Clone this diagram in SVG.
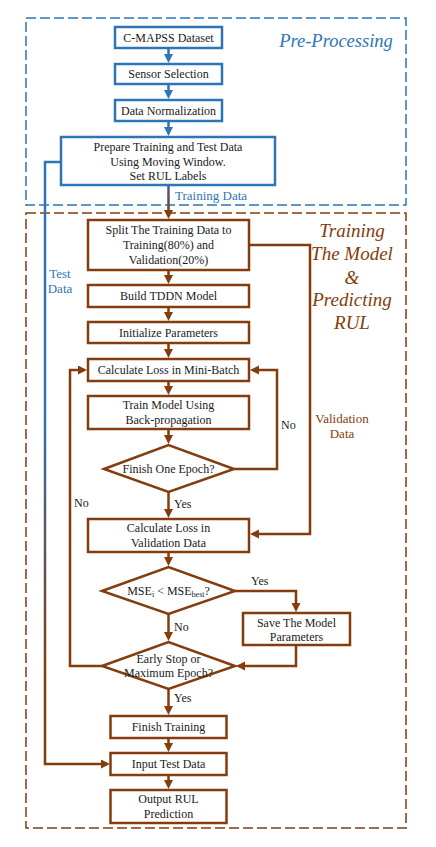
<svg xmlns="http://www.w3.org/2000/svg" width="436" height="847" viewBox="0 0 436 847">
<style>
.bg{fill:#ffffff}
.bbox{fill:#ffffff;stroke:#2e75b6;stroke-width:2.5}
.rbox{fill:#ffffff;stroke:#843c0c;stroke-width:2.5}
.frameB{fill:none;stroke:#2e75b6;stroke-width:1.5;stroke-dasharray:10 4}
.frameR{fill:none;stroke:#843c0c;stroke-width:1.5;stroke-dasharray:10 4}
.t{font-family:"Liberation Serif","Times New Roman",serif;font-size:12px;fill:#1a1a1a;text-anchor:middle}
.lb{font-family:"Liberation Serif","Times New Roman",serif;font-size:13px;fill:#2e75b6;text-anchor:middle}
.lr{font-family:"Liberation Serif","Times New Roman",serif;font-size:13px;fill:#843c0c;text-anchor:middle}
.yn{font-family:"Liberation Serif","Times New Roman",serif;font-size:12px;fill:#1a1a1a}
.titleB{font-family:"Liberation Serif","Times New Roman",serif;font-style:italic;font-size:18.5px;fill:#2e75b6;text-anchor:middle}
.titleR{font-family:"Liberation Serif","Times New Roman",serif;font-style:italic;font-size:19px;fill:#843c0c;text-anchor:middle}
.cb{fill:none;stroke:#2e75b6;stroke-width:2.5}
.cr{fill:none;stroke:#843c0c;stroke-width:2.5}
</style>
<defs>
<marker id="ab" markerUnits="userSpaceOnUse" markerWidth="10" markerHeight="10" refX="6" refY="4.5" orient="auto">
<path d="M0,0 L9,4.5 L0,9 z" fill="#2e75b6"/>
</marker>
<marker id="ar" markerUnits="userSpaceOnUse" markerWidth="10" markerHeight="10" refX="6" refY="4.5" orient="auto">
<path d="M0,0 L9,4.5 L0,9 z" fill="#843c0c"/>
</marker>
<linearGradient id="gTest" gradientUnits="userSpaceOnUse" x1="0" y1="162" x2="0" y2="764">
<stop offset="0" stop-color="#2e75b6"/>
<stop offset="0.4" stop-color="#2e75b6"/>
<stop offset="0.85" stop-color="#843c0c"/>
<stop offset="1" stop-color="#843c0c"/>
</linearGradient>
<linearGradient id="gTrain" gradientUnits="userSpaceOnUse" x1="0" y1="185" x2="0" y2="217">
<stop offset="0" stop-color="#3b5f95"/>
<stop offset="1" stop-color="#843c0c"/>
</linearGradient>
</defs>
<rect class="bg" x="0" y="0" width="436" height="847"/>

<g id="frames">
<rect class="frameB" x="26" y="18" width="380" height="187"/>
<rect class="frameR" x="26" y="213" width="380" height="615"/>
<text class="titleB" x="336" y="47">Pre-Processing</text>
<text class="titleR" x="352" y="237">Training</text>
<text class="titleR" x="352" y="260">The Model</text>
<text class="titleR" x="352" y="284">&amp;</text>
<text class="titleR" x="352" y="306">Predicting</text>
<text class="titleR" x="352" y="329">RUL</text>
</g>

<g id="connectors">
<line class="cb" x1="168.5" y1="48" x2="168.5" y2="60" marker-end="url(#ab)"/>
<line class="cb" x1="168.5" y1="84" x2="168.5" y2="96" marker-end="url(#ab)"/>
<line class="cb" x1="168.5" y1="121" x2="168.5" y2="133" marker-end="url(#ab)"/>
<line x1="168.5" y1="185" x2="168.5" y2="216" stroke="url(#gTrain)" stroke-width="2.5" marker-end="url(#ar)"/>
<polyline points="61,162 45,162 45,764 107,764" fill="none" stroke="url(#gTest)" stroke-width="2.5" marker-end="url(#ar)"/>
<line class="cr" x1="168.5" y1="270" x2="168.5" y2="281" marker-end="url(#ar)"/>
<line class="cr" x1="168.5" y1="307" x2="168.5" y2="318" marker-end="url(#ar)"/>
<line class="cr" x1="168.5" y1="343" x2="168.5" y2="355" marker-end="url(#ar)"/>
<line class="cr" x1="168.5" y1="381" x2="168.5" y2="392" marker-end="url(#ar)"/>
<line class="cr" x1="168.5" y1="429" x2="168.5" y2="441" marker-end="url(#ar)"/>
<line class="cr" x1="168.5" y1="492" x2="168.5" y2="515" marker-end="url(#ar)"/>
<line class="cr" x1="168.5" y1="552" x2="168.5" y2="563" marker-end="url(#ar)"/>
<line class="cr" x1="168.5" y1="614" x2="168.5" y2="638" marker-end="url(#ar)"/>
<line class="cr" x1="168.5" y1="689" x2="168.5" y2="712" marker-end="url(#ar)"/>
<line class="cr" x1="168.5" y1="738" x2="168.5" y2="749" marker-end="url(#ar)"/>
<line class="cr" x1="168.5" y1="775" x2="168.5" y2="786" marker-end="url(#ar)"/>
<polyline class="cr" points="234,469 277,469 277,370 253,370" marker-end="url(#ar)"/>
<polyline class="cr" points="102,666 70,666 70,370 84,370" marker-end="url(#ar)"/>
<polyline class="cr" points="249,245 310,245 310,534 253,534" marker-end="url(#ar)"/>
<polyline class="cr" points="235,591 296,591 296,609" marker-end="url(#ar)"/>
<polyline class="cr" points="296,645 296,666 239,666" marker-end="url(#ar)"/>
<text class="lb" x="211" y="200">Training Data</text>
<text class="lb" x="60" y="278">Test</text>
<text class="lb" x="60" y="293">Data</text>
<text class="lr" x="342" y="423">Validation</text>
<text class="lr" x="342" y="438">Data</text>
<text class="yn" x="281" y="429">No</text>
<text class="yn" x="74" y="507">No</text>
<text class="yn" x="174" y="508">Yes</text>
<text class="yn" x="251" y="585">Yes</text>
<text class="yn" x="174" y="631">No</text>
<text class="yn" x="174" y="702">Yes</text>
</g>

<g id="n1"><rect class="bbox" x="115" y="27" width="107" height="21"/><text class="t" x="168.5" y="41.5">C-MAPSS Dataset</text></g>
<g id="n2"><rect class="bbox" x="115" y="64" width="107" height="20"/><text class="t" x="168.5" y="78">Sensor Selection</text></g>
<g id="n3"><rect class="bbox" x="115" y="100" width="107" height="21"/><text class="t" x="168.5" y="114.5">Data Normalization</text></g>
<g id="n4"><rect class="bbox" x="61" y="137" width="214" height="48"/>
<text class="t" x="168" y="151">Prepare Training and Test Data</text>
<text class="t" x="168" y="165.5">Using Moving Window.</text>
<text class="t" x="168" y="180">Set RUL Labels</text></g>

<g id="n5"><rect class="rbox" x="88" y="220" width="161" height="50"/>
<text class="t" x="168.5" y="234">Split The Training Data to</text>
<text class="t" x="168.5" y="249">Training(80%) and</text>
<text class="t" x="168.5" y="264">Validation(20%)</text></g>
<g id="n6"><rect class="rbox" x="88" y="285" width="161" height="22"/><text class="t" x="168.5" y="300">Build TDDN Model</text></g>
<g id="n7"><rect class="rbox" x="88" y="322" width="161" height="21"/><text class="t" x="168.5" y="336.5">Initialize Parameters</text></g>
<g id="n8"><rect class="rbox" x="88" y="359" width="161" height="22"/><text class="t" x="168.5" y="374">Calculate Loss in Mini-Batch</text></g>
<g id="n9"><rect class="rbox" x="88" y="396" width="161" height="33"/>
<text class="t" x="168.5" y="409">Train Model Using</text>
<text class="t" x="168.5" y="424">Back-propagation</text></g>
<g id="n10"><polygon class="rbox" points="104,469 168.5,445 234,469 168.5,492"/><text class="t" x="168.5" y="473">Finish One Epoch?</text></g>
<g id="n11"><rect class="rbox" x="88" y="519" width="161" height="33"/>
<text class="t" x="168.5" y="532">Calculate Loss in</text>
<text class="t" x="168.5" y="547">Validation Data</text></g>
<g id="n12"><polygon class="rbox" points="102,591 168.5,567 235,591 168.5,614"/>
<text class="t" x="168.5" y="595">MSE<tspan font-size="8" dy="2">i</tspan><tspan dy="-2"> &lt; MSE</tspan><tspan font-size="8" dy="2">best</tspan><tspan dy="-2">?</tspan></text></g>
<g id="n13"><rect class="rbox" x="243" y="613" width="107" height="32"/>
<text class="t" x="296.5" y="627">Save The Model</text>
<text class="t" x="296.5" y="641">Parameters</text></g>
<g id="n14"><polygon class="rbox" points="102,666 168.5,642 235,666 168.5,689"/>
<text class="t" x="168.5" y="663">Early Stop or</text>
<text class="t" x="168.5" y="677">Maximum Epoch?</text></g>
<g id="n15"><rect class="rbox" x="110.5" y="716" width="116" height="22"/><text class="t" x="168.5" y="731">Finish Training</text></g>
<g id="n16"><rect class="rbox" x="110.5" y="753" width="116" height="22"/><text class="t" x="168.5" y="768">Input Test Data</text></g>
<g id="n17"><rect class="rbox" x="110.5" y="790" width="116" height="33"/>
<text class="t" x="168.5" y="803">Output RUL</text>
<text class="t" x="168.5" y="818">Prediction</text></g>
</svg>
